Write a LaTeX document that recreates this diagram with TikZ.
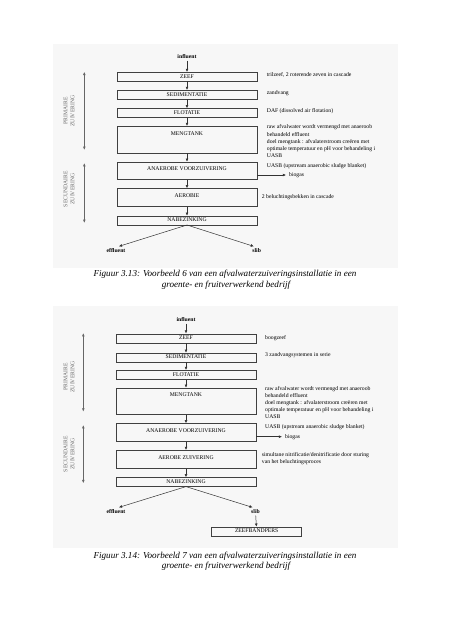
\documentclass[tikz,border=0pt]{standalone}
\usepackage{fontspec}
\setmainfont{Liberation Serif}
\usetikzlibrary{arrows.meta}
\newcommand{\smalltext}{\fontsize{5.7}{7.1}\selectfont}
\newcommand{\figtext}{\fontsize{9.1}{10}\selectfont\itshape}
\tikzset{
  stage/.style={draw=black!75, line width=0.5pt, minimum width=140pt, inner sep=0pt, anchor=north, font=\smalltext, text height=5.8pt, text depth=#1},
  stage/.default=3pt,
  tallstage/.style={stage=#1, text height=8.8pt},
  flow/.style={-{Latex[length=3.2pt,width=2.8pt]}, line width=0.5pt, draw=black!80},
  phasearrow/.style={{Latex[length=3.4pt,width=2.8pt]}-{Latex[length=3.4pt,width=2.8pt]}, line width=0.7pt, draw=black!60},
  phaselabel/.style={rotate=90, align=center, inner sep=0pt, font=\smalltext, text=black!60},
  note/.style={anchor=west, align=left, inner sep=0pt, font=\smalltext},
  stream/.style={inner sep=1.5pt, font=\smalltext\bfseries},
  figcaption/.style={inner sep=0pt, font=\figtext},
  backdrop/.style={fill=black!3, draw=none}
}

\begin{document}
\begin{tikzpicture}[x=1pt, y=-1pt]
\useasboundingbox (0,0) rectangle (452,640);
\fill[backdrop] (53,44) rectangle (398,268);
\fill[backdrop] (53,306) rectangle (398,548);

\node[stream]          (influentOne)        at (187,57)    {influent};
\node[stage]           (zeefOne)            at (187,72)    {ZEEF};
\node[stage]           (sedimentatieOne)    at (187,90)    {SEDIMENTATIE};
\node[stage]           (flotatieOne)        at (187,108.3) {FLOTATIE};
\node[tallstage=18pt]  (mengtankOne)        at (187,126)   {MENGTANK};
\node[tallstage=8.8pt] (anaerobeOne)        at (187,161.7) {ANAEROBE VOORZUIVERING};
\node[tallstage=8.9pt] (aerobieOne)         at (187,188.3) {AEROBIE};
\node[stage]           (nabezinkingOne)     at (187,215.7) {NABEZINKING};
\node[stream]          (effluentOne)        at (116,251)   {effluent};
\node[stream]          (slibOne)            at (256.7,251) {slib};

\node[note]            (trilzeefNote)       at (266.7,75)    {trilzeef, 2 roterende zeven in cascade};
\node[note]            (zandvangNote)       at (266.7,93.3)  {zandvang};
\node[note]            (dafNote)            at (266.7,111)   {DAF (dissolved air flotation)};
\node[note]            (mengtankNoteOne)    at (266.7,141.2) {raw afvalwater wordt vermengd met anaeroob\\behandeld effluent\\doel mengtank : afvalaterstroom creëren met\\optimale temperatuur en pH voor behandeling i\\UASB};
\node[note]            (uasbNoteOne)        at (266.7,166)   {UASB (upstream anaerobic sludge blanket)};
\node[note]            (biogasOne)          at (289,175)     {biogas};
\node[note]            (beluchtingNote)     at (261.7,196.7) {2 beluchtingsbekken in cascade};

\node[phaselabel]      (primaireOneLabel)   at (69,111)  {PRIMAIRE\\ZUIVERING};
\node[phaselabel]      (secundaireOneLabel) at (69,189)  {SECUNDAIRE\\ZUIVERING};
\coordinate            (primaireOneTop)     at (84.3,71.7);
\coordinate            (primaireOneBottom)  at (84.3,150);
\coordinate            (secundaireOneTop)   at (84.3,163);
\coordinate            (secundaireOneBottom) at (84.3,223);

\draw[phasearrow] (primaireOneTop) -- (primaireOneBottom);
\draw[phasearrow] (secundaireOneTop) -- (secundaireOneBottom);
\draw[flow] (influentOne) -- (zeefOne);
\draw[flow] (zeefOne) -- (sedimentatieOne);
\draw[flow] (sedimentatieOne) -- (flotatieOne);
\draw[flow] (flotatieOne) -- (mengtankOne);
\draw[flow] (mengtankOne) -- (anaerobeOne);
\draw[flow] (anaerobeOne) -- (aerobieOne);
\draw[flow] (aerobieOne) -- (nabezinkingOne);
\draw[flow, shorten >=3pt] (nabezinkingOne.south) -- (effluentOne.north);
\draw[flow, shorten >=3pt] (nabezinkingOne.south) -- (slibOne.north);
\draw[flow, shorten >=3pt] (anaerobeOne.east |- biogasOne) -- (biogasOne.west);

\node[figcaption]      (captionOneA)        at (225,274.5) {Figuur 3.13: Voorbeeld 6 van een afvalwaterzuiveringsinstallatie in een};
\node[figcaption]      (captionOneB)        at (226,285) {groente- en fruitverwerkend bedrijf};

\node[stream]          (influentTwo)        at (186,320)   {influent};
\node[stage=3.3pt]     (zeefTwo)            at (186,333.5) {ZEEF};
\node[stage]           (sedimentatieTwo)    at (186,352.7) {SEDIMENTATIE};
\node[stage=3.3pt]     (flotatieTwo)        at (186,370)   {FLOTATIE};
\node[tallstage=17.8pt] (mengtankTwo)       at (186,387.7) {MENGTANK};
\node[tallstage=8.9pt] (anaerobeTwo)        at (186,423.3) {ANAEROBE VOORZUIVERING};
\node[tallstage=9.5pt] (aerobeTwo)          at (186,450)   {AEROBE ZUIVERING};
\node[stage]           (nabezinkingTwo)     at (186,477.3) {NABEZINKING};
\node[stream]          (effluentTwo)        at (116,512)   {effluent};
\node[stream]          (slibTwo)            at (255.5,512) {slib};
\node[stage=3.3pt, minimum width=90pt] (zeefbandpersTwo) at (256.7,526.7) {ZEEFBANDPERS};

\node[note]            (boogzeefNote)       at (265,338.3)   {boogzeef};
\node[note]            (zandvangsysNote)    at (265,355)     {3 zandvangsystemen in serie};
\node[note]            (mengtankNoteTwo)    at (265,402.5)   {raw afvalwater wordt vermengd met anaeroob\\behandeld effluent\\doel mengtank : afvalaterstroom creëren met\\optimale temperatuur en pH voor behandeling i\\UASB};
\node[note]            (uasbNoteTwo)        at (265,427.3)   {UASB (upstream anaerobic sludge blanket)};
\node[note]            (biogasTwo)          at (285,436.7)   {biogas};
\node[note]            (nitrificatieNote)   at (261.7,459)   {simultane nitrificatie/denitrificatie door sturing\\van het beluchtingsproces};

\node[phaselabel]      (primaireTwoLabel)   at (69,377)  {PRIMAIRE\\ZUIVERING};
\node[phaselabel]      (secundaireTwoLabel) at (69,454)  {SECUNDAIRE\\ZUIVERING};
\coordinate            (primaireTwoTop)     at (83.3,333);
\coordinate            (primaireTwoBottom)  at (83.3,411.7);
\coordinate            (secundaireTwoTop)   at (83.3,425);
\coordinate            (secundaireTwoBottom) at (83.3,483.3);

\draw[phasearrow] (primaireTwoTop) -- (primaireTwoBottom);
\draw[phasearrow] (secundaireTwoTop) -- (secundaireTwoBottom);
\draw[flow] (influentTwo) -- (zeefTwo);
\draw[flow] (zeefTwo) -- (sedimentatieTwo);
\draw[flow] (sedimentatieTwo) -- (flotatieTwo);
\draw[flow] (flotatieTwo) -- (mengtankTwo);
\draw[flow] (mengtankTwo) -- (anaerobeTwo);
\draw[flow] (anaerobeTwo) -- (aerobeTwo);
\draw[flow] (aerobeTwo) -- (nabezinkingTwo);
\draw[flow, shorten >=3pt] (nabezinkingTwo.south) -- (effluentTwo.north);
\draw[flow, shorten >=3pt] (nabezinkingTwo.south) -- (slibTwo.north);
\draw[flow] (slibTwo) -- (zeefbandpersTwo);
\draw[flow, shorten >=3pt] (anaerobeTwo.east |- biogasTwo) -- (biogasTwo.west);

\node[figcaption]      (captionTwoA)        at (225,556)   {Figuur 3.14: Voorbeeld 7 van een afvalwaterzuiveringsinstallatie in een};
\node[figcaption]      (captionTwoB)        at (226,566.5) {groente- en fruitverwerkend bedrijf};
\end{tikzpicture}
\end{document}
